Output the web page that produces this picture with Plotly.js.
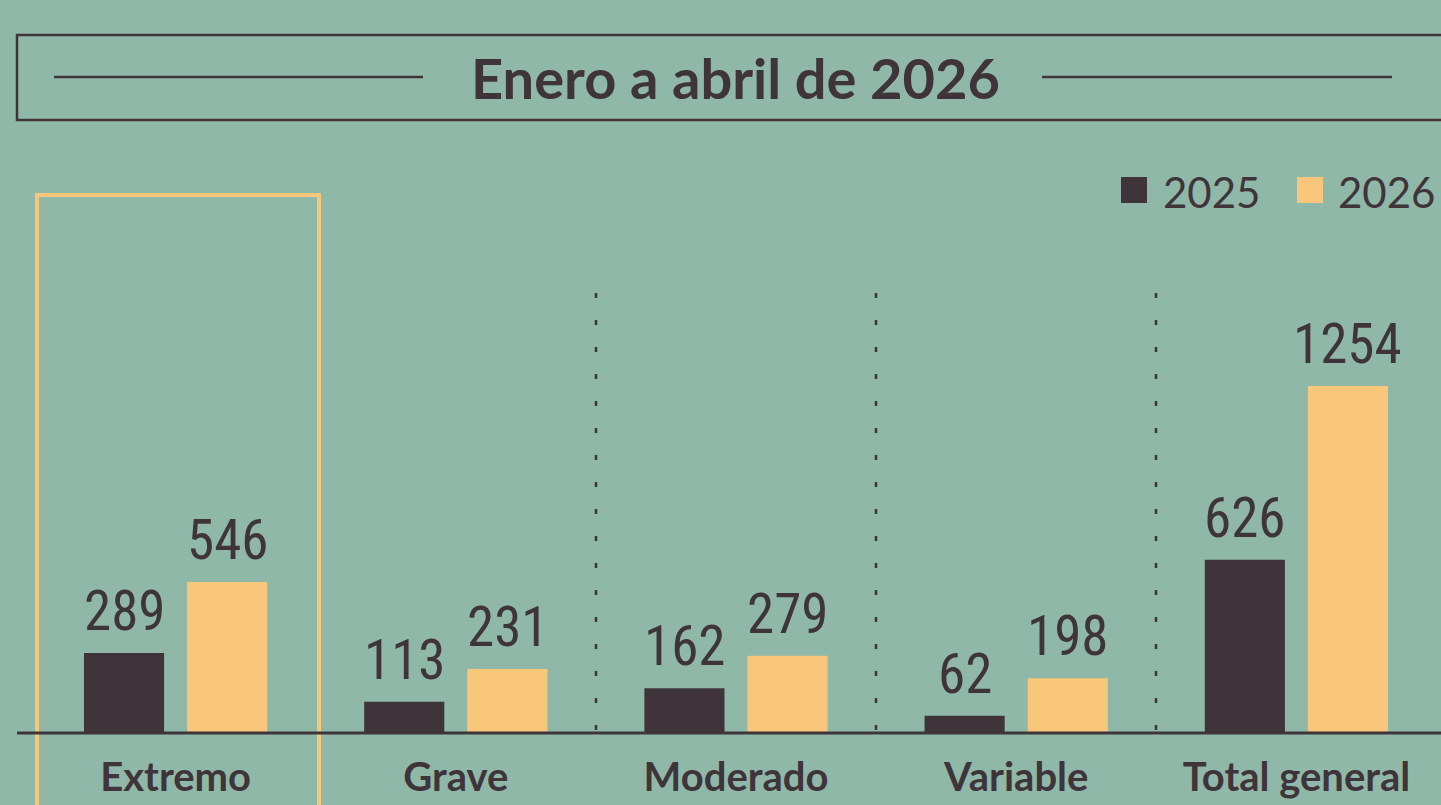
<!DOCTYPE html>
<html>
<head>
<meta charset="utf-8">
<script src="https://cdn.plot.ly/plotly-3.0.1.min.js"></script>
<style>
  html, body { margin: 0; padding: 0; background: #8fb8a8; }
  #chart { width: 1441px; height: 805px; }
</style>
</head>
<body>
<div id="chart"></div>
<script>
// ---- data ----
const categories = ['Extremo', 'Grave', 'Moderado', 'Variable', 'Total general'];
const values2025 = [289, 113, 162, 62, 626];
const values2026 = [546, 231, 279, 198, 1254];
const seriesNames = ['2025', '2026'];
const chartTitle = 'Enero a abril de 2026';

// ---- style ----
const W = 1441, H = 805;
const BG = '#8fb8a8';
const DARK = '#3f3439';
const ORANGE = '#f9c77b';
const px = x => x / W;          // pixel -> paper x (margins are zero)
const py = y => 1 - y / H;      // pixel -> paper y

const numFont = { family: '"Liberation Sans Narrow", "Roboto Condensed", "DejaVu Sans Condensed", sans-serif', size: 55, color: DARK };
const labelFont = { family: 'Lato, "Open Sans", sans-serif', size: 40, color: DARK, weight: 700 };

const traces = [
  { type: 'bar', name: seriesNames[0], x: categories, y: values2025, marker: { color: DARK }, hoverinfo: 'skip' },
  { type: 'bar', name: seriesNames[1], x: categories, y: values2026, marker: { color: ORANGE }, hoverinfo: 'skip' }
];

const annotations = [];
categories.forEach((c, i) => {
  annotations.push({ x: c, y: values2025[i], xref: 'x', yref: 'y', text: String(values2025[i]), showarrow: false,
    xshift: -51.5, yshift: 8, yanchor: 'bottom', xanchor: 'center', font: numFont });
  annotations.push({ x: c, y: values2026[i], xref: 'x', yref: 'y', text: String(values2026[i]), showarrow: false,
    xshift: 51.5, yshift: 8, yanchor: 'bottom', xanchor: 'center', font: numFont });
});
// title
annotations.push({ x: px(735), y: py(77), xref: 'paper', yref: 'paper', text: chartTitle, showarrow: false,
  xanchor: 'center', yanchor: 'middle', font: { family: 'Lato, "Open Sans", sans-serif', size: 56, color: DARK, weight: 700 } });
// legend texts
annotations.push({ x: px(1161), y: py(192), xref: 'paper', yref: 'paper', text: seriesNames[0], showarrow: false,
  xanchor: 'left', yanchor: 'middle', font: { family: 'Lato, "Open Sans", sans-serif', size: 42, color: DARK } });
annotations.push({ x: px(1336), y: py(192), xref: 'paper', yref: 'paper', text: seriesNames[1], showarrow: false,
  xanchor: 'left', yanchor: 'middle', font: { family: 'Lato, "Open Sans", sans-serif', size: 42, color: DARK } });

const shapes = [
  // title box
  { type: 'rect', xref: 'paper', yref: 'paper', x0: px(17), x1: px(1460), y0: py(35), y1: py(120),
    line: { color: DARK, width: 2.5 }, fillcolor: 'rgba(0,0,0,0)' },
  { type: 'line', xref: 'paper', yref: 'paper', x0: px(54), x1: px(423), y0: py(77), y1: py(77), line: { color: DARK, width: 2.5 } },
  { type: 'line', xref: 'paper', yref: 'paper', x0: px(1042), x1: px(1392), y0: py(77), y1: py(77), line: { color: DARK, width: 2.5 } },
  // legend swatches
  { type: 'rect', xref: 'paper', yref: 'paper', x0: px(1121), x1: px(1147), y0: py(177), y1: py(203), line: { width: 0 }, fillcolor: DARK },
  { type: 'rect', xref: 'paper', yref: 'paper', x0: px(1297), x1: px(1323), y0: py(177), y1: py(203), line: { width: 0 }, fillcolor: ORANGE },
  // highlight box around first category
  { type: 'rect', xref: 'paper', yref: 'paper', x0: px(37), x1: px(319), y0: py(195), y1: py(830),
    line: { color: ORANGE, width: 4 }, fillcolor: 'rgba(0,0,0,0)', layer: 'above' },
  // dotted separators
  ...[596, 876, 1156].map(x => ({ type: 'line', xref: 'paper', yref: 'paper', x0: px(x), x1: px(x), y0: py(293), y1: py(733),
    line: { color: DARK, width: 2.5, dash: '5px,22px' } })),
  // baseline
  { type: 'line', xref: 'paper', yref: 'paper', x0: px(17), x1: px(1441), y0: py(733), y1: py(733), line: { color: DARK, width: 3 }, layer: 'above' }
];

const layout = {
  width: W, height: H,
  margin: { l: 0, r: 0, t: 0, b: 0 },
  paper_bgcolor: BG, plot_bgcolor: BG,
  barmode: 'group', bargap: 0.264, bargroupgap: 0.223,
  showlegend: false,
  xaxis: {
    domain: [35.5 / W, 1436.5 / W], range: [-0.5, 4.5], type: 'category',
    showgrid: false, zeroline: false, showline: false, ticks: '',
    tickfont: labelFont, ticklabelstandoff: 17, fixedrange: true
  },
  yaxis: {
    domain: [72 / H, 1 - 150 / H], range: [0, 583 * 1254 / 347],
    showgrid: false, zeroline: false, showline: false, showticklabels: false, ticks: '', fixedrange: true
  },
  annotations: annotations,
  shapes: shapes
};

Plotly.newPlot('chart', traces, layout, { displayModeBar: false, staticPlot: true });
</script>
</body>
</html>
